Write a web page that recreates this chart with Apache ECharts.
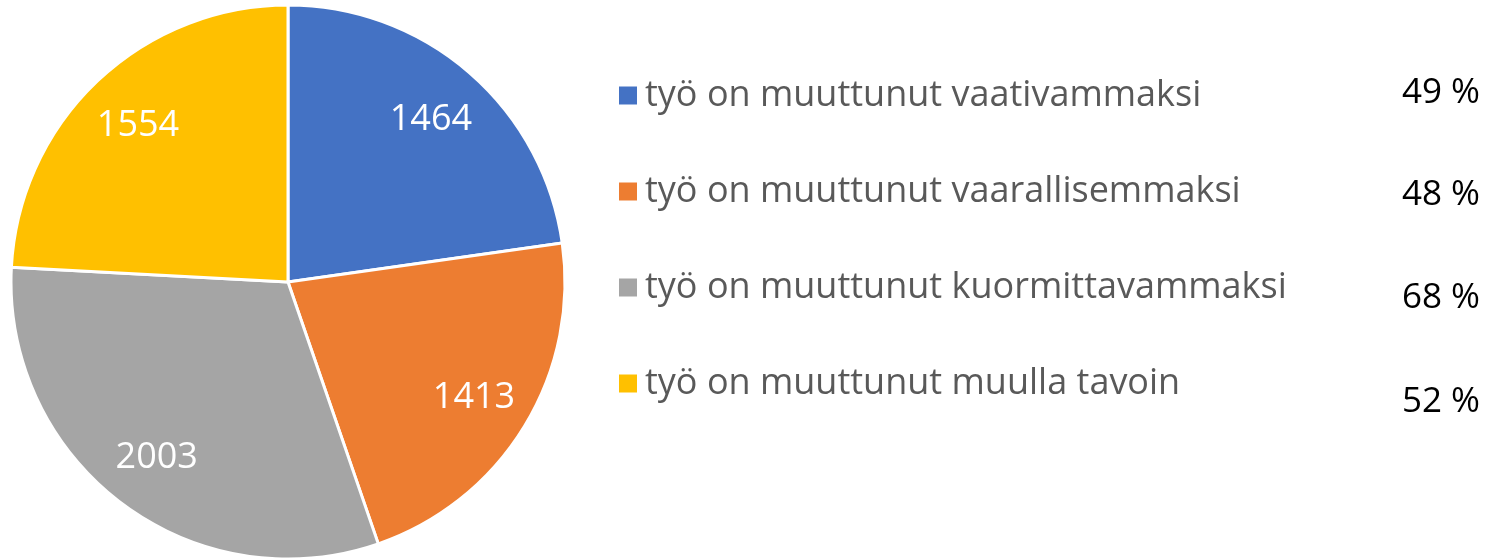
<!DOCTYPE html>
<html>
<head>
<meta charset="utf-8">
<script src="https://cdn.jsdelivr.net/npm/echarts@6/dist/echarts.min.js"></script>
<style>
  html, body { margin: 0; padding: 0; background: #fff; }
  #chart { width: 1494px; height: 559px; }
</style>
</head>
<body>
<div id="chart"></div>
<script>
// 数据
const categories = [
  'työ on muuttunut vaativammaksi',
  'työ on muuttunut vaarallisemmaksi',
  'työ on muuttunut kuormittavammaksi',
  'työ on muuttunut muulla tavoin'
]
const counts = [1464, 1413, 2003, 1554]
const shares = ['49 %', '48 %', '68 %', '52 %']
const colors = ['#4472c4', '#ed7d31', '#a5a5a5', '#ffc000']

const FONT = '"Open Sans", "Noto Sans", sans-serif'

const chart = echarts.init(document.getElementById('chart'))

const pieData = categories.map((name, i) => ({ name: name, value: counts[i] }))

// 右侧百分比文字
const shareTop = [76, 178, 281, 385]
const shareTexts = shares.map((s, i) => ({
  type: 'text',
  right: 14,
  top: shareTop[i],
  style: {
    text: s,
    font: '35px ' + FONT,
    fill: '#000'
  }
}))

const option = {
  animation: false,
  color: colors,
  legend: {
    orient: 'vertical',
    left: 612,
    top: 70,
    icon: 'rect',
    itemWidth: 20,
    itemHeight: 20,
    itemGap: 55,
    data: categories,
    textStyle: {
      fontFamily: FONT,
      fontSize: 36,
      lineHeight: 41,
      color: '#595959',
      padding: [0, 0, 0, 2]
    }
  },
  graphic: shareTexts,
  series: [
    {
      name: 'pie',
      type: 'pie',
      center: [288, 282],
      radius: [0, 277],
      startAngle: 90,
      clockwise: true,
      data: pieData,
      label: { show: false },
      labelLine: { show: false },
      itemStyle: { borderColor: '#fff', borderWidth: 3 },
      emphasis: { disabled: true }
    },
    {
      // 透明层，仅用于放置数值标签
      name: 'labels',
      type: 'pie',
      center: [288, 284],
      radius: [155, 275],
      startAngle: 90,
      clockwise: true,
      silent: true,
      data: pieData,
      itemStyle: { color: 'rgba(0,0,0,0)' },
      label: {
        show: true,
        position: 'inside',
        formatter: '{c}',
        color: '#fff',
        fontSize: 36,
        fontFamily: FONT
      },
      labelLine: { show: false },
      emphasis: { disabled: true }
    }
  ]
}

chart.setOption(option)
</script>
</body>
</html>
